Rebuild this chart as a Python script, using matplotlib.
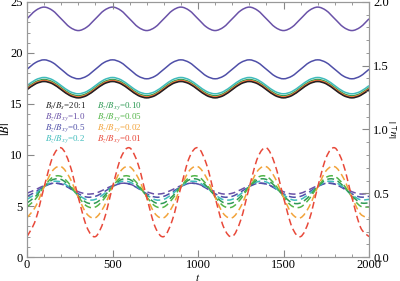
import matplotlib
matplotlib.use('Agg')
import matplotlib.pyplot as plt
from matplotlib.path import Path
from matplotlib.patches import PathPatch
from matplotlib.ticker import MultipleLocator

plt.rcParams['font.family'] = ['Liberation Serif', 'DejaVu Serif']
plt.rcParams['mathtext.fontset'] = 'stix'

# time samples
t = [0, 50, 100, 150, 200, 250, 300, 350, 400, 450, 500, 550, 600, 650, 700, 750, 800,
     850, 900, 950, 1000, 1050, 1100, 1150, 1200, 1250, 1300, 1350, 1400, 1450, 1500,
     1550, 1600, 1650, 1700, 1750, 1800, 1850, 1900, 1950, 2000]

# |B| (solid, left axis)
b_10 = [23.35, 24.16, 24.5, 24.16, 23.35, 22.54, 22.2, 22.54,
        23.35, 24.16, 24.5, 24.16, 23.35, 22.54, 22.2, 22.54,
        23.35, 24.16, 24.5, 24.16, 23.35, 22.54, 22.2, 22.54,
        23.35, 24.16, 24.5, 24.16, 23.35, 22.54, 22.2, 22.54,
        23.35, 24.16, 24.5, 24.16, 23.35, 22.54, 22.2, 22.54, 23.35]
b_05 = [18.4, 19.06, 19.33, 19.06, 18.4, 17.74, 17.47, 17.74,
        18.4, 19.06, 19.33, 19.06, 18.4, 17.74, 17.47, 17.74,
        18.4, 19.06, 19.33, 19.06, 18.4, 17.74, 17.47, 17.74,
        18.4, 19.06, 19.33, 19.06, 18.4, 17.74, 17.47, 17.74,
        18.4, 19.06, 19.33, 19.06, 18.4, 17.74, 17.47, 17.74, 18.4]
b_02 = [16.8, 17.37, 17.6, 17.37, 16.8, 16.23, 16.0, 16.23,
        16.8, 17.37, 17.6, 17.37, 16.8, 16.23, 16.0, 16.23,
        16.8, 17.37, 17.6, 17.37, 16.8, 16.23, 16.0, 16.23,
        16.8, 17.37, 17.6, 17.37, 16.8, 16.23, 16.0, 16.23,
        16.8, 17.37, 17.6, 17.37, 16.8, 16.23, 16.0, 16.23, 16.8]
b_010 = [16.6, 17.17, 17.4, 17.17, 16.6, 16.03, 15.8, 16.03,
         16.6, 17.17, 17.4, 17.17, 16.6, 16.03, 15.8, 16.03,
         16.6, 17.17, 17.4, 17.17, 16.6, 16.03, 15.8, 16.03,
         16.6, 17.17, 17.4, 17.17, 16.6, 16.03, 15.8, 16.03,
         16.6, 17.17, 17.4, 17.17, 16.6, 16.03, 15.8, 16.03, 16.6]
b_002 = [16.5, 17.07, 17.3, 17.07, 16.5, 15.93, 15.7, 15.93,
         16.5, 17.07, 17.3, 17.07, 16.5, 15.93, 15.7, 15.93,
         16.5, 17.07, 17.3, 17.07, 16.5, 15.93, 15.7, 15.93,
         16.5, 17.07, 17.3, 17.07, 16.5, 15.93, 15.7, 15.93,
         16.5, 17.07, 17.3, 17.07, 16.5, 15.93, 15.7, 15.93, 16.5]
b_001 = [16.45, 17.02, 17.25, 17.02, 16.45, 15.88, 15.65, 15.88,
         16.45, 17.02, 17.25, 17.02, 16.45, 15.88, 15.65, 15.88,
         16.45, 17.02, 17.25, 17.02, 16.45, 15.88, 15.65, 15.88,
         16.45, 17.02, 17.25, 17.02, 16.45, 15.88, 15.65, 15.88,
         16.45, 17.02, 17.25, 17.02, 16.45, 15.88, 15.65, 15.88, 16.45]
b_ts = [16.4, 16.97, 17.2, 16.97, 16.4, 15.83, 15.6, 15.83,
        16.4, 16.97, 17.2, 16.97, 16.4, 15.83, 15.6, 15.83,
        16.4, 16.97, 17.2, 16.97, 16.4, 15.83, 15.6, 15.83,
        16.4, 16.97, 17.2, 16.97, 16.4, 15.83, 15.6, 15.83,
        16.4, 16.97, 17.2, 16.97, 16.4, 15.83, 15.6, 15.83, 16.4]

# |u_perp| (dashed, right axis)
u_10 = [0.500, 0.528, 0.560, 0.578, 0.572, 0.544, 0.512, 0.494,
        0.500, 0.528, 0.560, 0.578, 0.572, 0.544, 0.512, 0.494,
        0.500, 0.528, 0.560, 0.578, 0.572, 0.544, 0.512, 0.494,
        0.500, 0.528, 0.560, 0.578, 0.572, 0.544, 0.512, 0.494,
        0.500, 0.528, 0.560, 0.578, 0.572, 0.544, 0.512, 0.494, 0.500]
u_05 = [0.476, 0.510, 0.552, 0.578, 0.572, 0.538, 0.496, 0.470,
        0.476, 0.510, 0.552, 0.578, 0.572, 0.538, 0.496, 0.470,
        0.476, 0.510, 0.552, 0.578, 0.572, 0.538, 0.496, 0.470,
        0.476, 0.510, 0.552, 0.578, 0.572, 0.538, 0.496, 0.470,
        0.476, 0.510, 0.552, 0.578, 0.572, 0.538, 0.496, 0.470, 0.476]
u_02 = [0.452, 0.495, 0.552, 0.591, 0.588, 0.545, 0.488, 0.449,
        0.452, 0.495, 0.552, 0.591, 0.588, 0.545, 0.488, 0.449,
        0.452, 0.495, 0.552, 0.591, 0.588, 0.545, 0.488, 0.449,
        0.452, 0.495, 0.552, 0.591, 0.588, 0.545, 0.488, 0.449,
        0.452, 0.495, 0.552, 0.591, 0.588, 0.545, 0.488, 0.449, 0.452]
u_010 = [0.424, 0.476, 0.552, 0.606, 0.608, 0.556, 0.480, 0.426,
         0.424, 0.476, 0.552, 0.606, 0.608, 0.556, 0.480, 0.426,
         0.424, 0.476, 0.552, 0.606, 0.608, 0.556, 0.480, 0.426,
         0.424, 0.476, 0.552, 0.606, 0.608, 0.556, 0.480, 0.426,
         0.424, 0.476, 0.552, 0.606, 0.608, 0.556, 0.480, 0.426, 0.424]
u_005 = [0.392, 0.455, 0.552, 0.625, 0.632, 0.569, 0.472, 0.399,
         0.392, 0.455, 0.552, 0.625, 0.632, 0.569, 0.472, 0.399,
         0.392, 0.455, 0.552, 0.625, 0.632, 0.569, 0.472, 0.399,
         0.392, 0.455, 0.552, 0.625, 0.632, 0.569, 0.472, 0.399,
         0.392, 0.455, 0.552, 0.625, 0.632, 0.569, 0.472, 0.399, 0.392]
u_002 = [0.308, 0.395, 0.548, 0.678, 0.708, 0.621, 0.468, 0.338,
         0.308, 0.395, 0.548, 0.678, 0.708, 0.621, 0.468, 0.338,
         0.308, 0.395, 0.548, 0.678, 0.708, 0.621, 0.468, 0.338,
         0.308, 0.395, 0.548, 0.678, 0.708, 0.621, 0.468, 0.338,
         0.308, 0.395, 0.548, 0.678, 0.708, 0.621, 0.468, 0.338, 0.308]
u_001 = [0.160, 0.290, 0.548, 0.782, 0.856, 0.726, 0.468, 0.234,
         0.160, 0.290, 0.548, 0.782, 0.856, 0.726, 0.468, 0.234,
         0.160, 0.290, 0.548, 0.782, 0.856, 0.726, 0.468, 0.234,
         0.160, 0.290, 0.548, 0.782, 0.856, 0.726, 0.468, 0.234,
         0.160, 0.290, 0.548, 0.782, 0.856, 0.726, 0.468, 0.234, 0.160]

c_ts = '#222222'
c_10 = '#6a52a8'
c_05 = '#4f4fa8'
c_02 = '#3fbcbc'
c_010 = '#2f9a55'
c_005 = '#52b548'
c_002 = '#f2a33a'
c_001 = '#e8493a'

labels = [(r'$B_t/B_s$=20:1', c_ts), (r'$B_z/B_{xy}$=1.0', c_10),
          (r'$B_z/B_{xy}$=0.5', c_05), (r'$B_z/B_{xy}$=0.2', c_02),
          (r'$B_z/B_{xy}$=0.10', c_010), (r'$B_z/B_{xy}$=0.05', c_005),
          (r'$B_z/B_{xy}$=0.02', c_002), (r'$B_z/B_{xy}$=0.01', c_001)]


def smooth_curve(ax, x, y, color, ls='-', lw=1.2):
    # catmull-rom through the read points, drawn as bezier path
    n = len(x)
    verts = [(x[0], y[0])]
    codes = [Path.MOVETO]
    for i in range(n - 1):
        x0, y0 = (x[i - 1], y[i - 1]) if i > 0 else (x[i], y[i])
        x3, y3 = (x[i + 2], y[i + 2]) if i + 2 < n else (x[i + 1], y[i + 1])
        c1 = (x[i] + (x[i + 1] - x0) / 6, y[i] + (y[i + 1] - y0) / 6)
        c2 = (x[i + 1] - (x3 - x[i]) / 6, y[i + 1] - (y3 - y[i]) / 6)
        verts += [c1, c2, (x[i + 1], y[i + 1])]
        codes += [Path.CURVE4] * 3
    ax.add_patch(PathPatch(Path(verts, codes), fill=False, edgecolor=color,
                           linestyle=ls, linewidth=lw))


fig = plt.figure(figsize=(4, 2.81), dpi=100)
ax = fig.add_axes([0.0675, 0.0854, 0.855, 0.9075])
ax2 = ax.twinx()

for vals, col in [(b_10, c_10), (b_05, c_05), (b_02, c_02), (b_010, c_010),
                  (b_002, c_002), (b_001, c_001), (b_ts, c_ts)]:
    smooth_curve(ax, t, vals, col, lw=1.1)

dash = (0, (4.5, 2.5))
for vals, col in [(u_10, c_10), (u_05, c_05), (u_02, c_02), (u_010, c_010),
                  (u_005, c_005), (u_002, c_002), (u_001, c_001)]:
    smooth_curve(ax2, t, vals, col, ls=dash, lw=1.1)

ax.set_xlim(0, 2000)
ax.set_ylim(0, 25)
ax2.set_ylim(0, 2.0)

ax.xaxis.set_major_locator(MultipleLocator(500))
ax.xaxis.set_minor_locator(MultipleLocator(100))
ax.yaxis.set_major_locator(MultipleLocator(5))
ax.yaxis.set_minor_locator(MultipleLocator(1))
ax2.yaxis.set_major_locator(MultipleLocator(0.5))
ax2.yaxis.set_minor_locator(MultipleLocator(0.1))
ax2.yaxis.set_major_formatter(plt.FuncFormatter(lambda v, p: f'{v:.1f}'))

ax.tick_params(which='both', direction='in', top=True, labelsize=9, pad=3, color='#888888')
ax.tick_params(axis='x', pad=1.5)
ax.tick_params(which='major', length=5)
ax.tick_params(which='minor', length=2.5)
ax2.tick_params(which='both', direction='in', labelsize=9, pad=3, color='#888888')
ax2.tick_params(which='major', length=5)
ax2.tick_params(which='minor', length=2.5)
for a in (ax, ax2):
    for s in a.spines.values():
        s.set_color('#999999')
        s.set_linewidth(0.8)

ax.set_xlabel(r'$t$', fontsize=8)
ax.xaxis.set_label_coords(0.5, -0.058)
ax.set_ylabel(r'$|B|$', fontsize=9)
ax.yaxis.set_label_coords(-0.044, 0.5)
ax2.set_ylabel(r'$|u_\perp|$', fontsize=8)
ax2.yaxis.set_label_coords(1.057, 0.5)

# legend text, two columns
xs = [105, 407]
ys = [14.8, 13.72, 12.64, 11.56]
for i, (txt, col) in enumerate(labels):
    ax.text(xs[i // 4], ys[i % 4], txt, color=col, fontsize=6.5, va='center', ha='left')

fig.savefig('out.png', dpi=100)
